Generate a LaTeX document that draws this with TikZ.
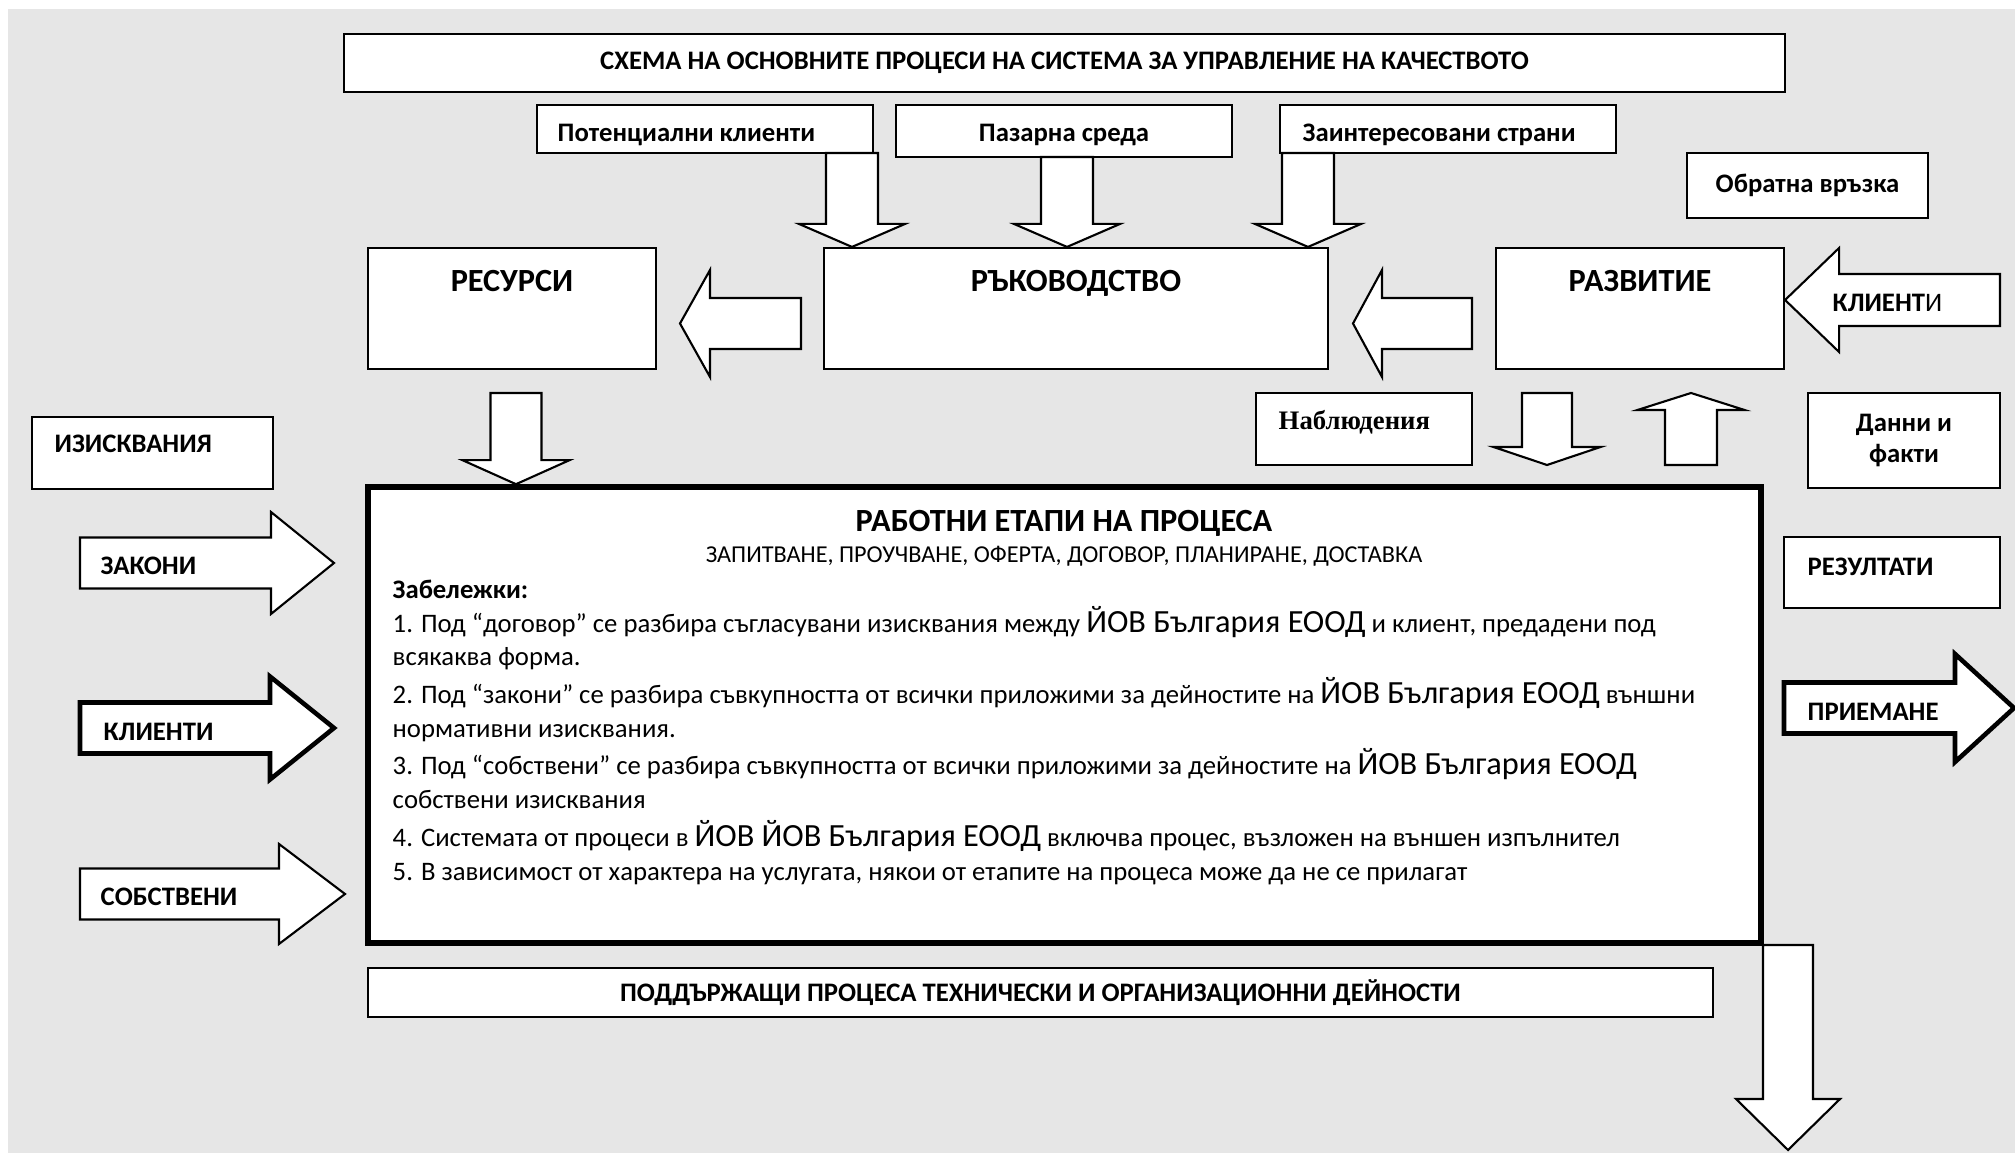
\documentclass[tikz,border=0pt]{standalone}
\usepackage{fontspec}
\setmainfont{Carlito}
\newfontfamily\nabfont{Liberation Serif}
\usetikzlibrary{positioning,calc}

\definecolor{bggray}{RGB}{230,230,230}
\newcommand{\firm}[1]{{\fontsize{9.2}{9}\selectfont #1}}

% block arrow: [style] {tail} {tip} {half shaft} {half head} {head length}
\newcommand{\blockarrow}[6][]{%
  \coordinate (hb) at ($(#3)!#6!(#2)$);
  \draw[barrow,#1] ($(#2)!#4!90:(#3)$) -- ($(hb)!#4!90:(#3)$) -- ($(hb)!#5!90:(#3)$) -- (#3)
    -- ($(hb)!#5!-90:(#3)$) -- ($(hb)!#4!-90:(#3)$) -- ($(#2)!#4!-90:(#3)$) -- cycle;}

\begin{document}
\begin{tikzpicture}[
 box/.style={draw,fill=white,line width=0.6pt,inner sep=0pt},
 lbl/.style={font=\bfseries\fontsize{7.6}{9}\selectfont,inner sep=0pt},
 big/.style={font=\bfseries\fontsize{9.2}{10}\selectfont,inner sep=0pt},
 note/.style={font=\fontsize{7.6}{9}\selectfont,inner sep=0pt,anchor=base west},
 barrow/.style={draw,fill=white,line width=0.6pt,line join=miter}]
\useasboundingbox (0,0) rectangle (20.15,-11.53);
\fill[white] (0,0) rectangle (20.15,-11.53);
\fill[bggray] (0.08,-0.09) rectangle (20.15,-11.53);
% top row
\node[box,lbl,minimum width=14.41cm,minimum height=0.58cm] (title) at (10.645,-0.63)
 {СХЕМА НА ОСНОВНИТЕ ПРОЦЕСИ НА СИСТЕМА ЗА УПРАВЛЕНИЕ НА КАЧЕСТВОТО};
\node[box,minimum width=3.36cm,minimum height=0.48cm] (pot) at (7.05,-1.29) {};
\node[box,minimum width=3.36cm,minimum height=0.52cm] (paz) at (10.64,-1.31) {};
\node[box,minimum width=3.36cm,minimum height=0.48cm] (zai) at (14.48,-1.29) {};
\node[lbl,anchor=west] (potT) at (5.57,-1.35) {Потенциални клиенти};
\node[lbl] (pazT) at (10.64,-1.35) {Пазарна среда};
\node[lbl,anchor=west] (zaiT) at (13.02,-1.35) {Заинтересовани страни};
\node[box,lbl,minimum width=2.41cm,minimum height=0.65cm] (obr) at (18.075,-1.855) {Обратна връзка};
% management row
\node[box,minimum width=2.88cm,minimum height=1.21cm] (res) at (5.12,-3.085) {};
\node[box,minimum width=5.04cm,minimum height=1.21cm] (ruk) at (10.76,-3.085) {};
\node[box,minimum width=2.88cm,minimum height=1.21cm] (raz) at (16.40,-3.085) {};
\node[big,below=0.23 of res.north] (resT) {РЕСУРСИ};
\node[big,below=0.23 of ruk.north] (rukT) {РЪКОВОДСТВО};
\node[big,below=0.23 of raz.north] (razT) {РАЗВИТИЕ};
% side boxes
\node[box,minimum width=2.16cm,minimum height=0.72cm] (nab) at (13.64,-4.29) {};
\node[inner sep=0pt,anchor=west,font=\nabfont\bfseries\fontsize{7.6}{9}\selectfont] (nabT) at (12.78,-4.22) {Наблюдения};
\node[box,lbl,align=center,minimum width=1.92cm,minimum height=0.95cm] (dan) at (19.04,-4.405)
 {Данни и\\факти};
\node[box,minimum width=2.41cm,minimum height=0.72cm] (izi) at (1.525,-4.53) {};
\node[lbl,anchor=west] (iziT) at (0.54,-4.44) {ИЗИСКВАНИЯ};
\node[box,minimum width=2.16cm,minimum height=0.71cm] (rez) at (18.92,-5.725) {};
\node[lbl,anchor=west] (rezT) at (18.07,-5.67) {РЕЗУЛТАТИ};
% process
\node[box,line width=1.6pt,minimum width=13.93cm,minimum height=4.56cm] (main) at (10.645,-7.15) {};
\node[box,lbl,minimum width=13.45cm,minimum height=0.49cm] (sup) at (10.405,-9.925)
 {ПОДДЪРЖАЩИ ПРОЦЕСА ТЕХНИЧЕСКИ И ОРГАНИЗАЦИОННИ ДЕЙНОСТИ};
\node[big] (mainT) at (10.64,-5.23) {РАБОТНИ ЕТАПИ НА ПРОЦЕСА};
\node[inner sep=0pt,font=\fontsize{6.9}{8}\selectfont] (mainS) at (10.64,-5.56)
 {ЗАПИТВАНЕ, ПРОУЧВАНЕ, ОФЕРТА, ДОГОВОР, ПЛАНИРАНЕ, ДОСТАВКА};
\node[lbl,anchor=west] (zab) at (3.92,-5.89) {Забележки:};
\node[note] (n1a) at (3.92,-6.33) {1. Под “договор” се разбира съгласувани изисквания между \firm{ЙОВ България ЕООД} и клиент, предадени под};
\node[note] (n1b) at (3.92,-6.66) {всякаква форма.};
\node[note] (n2a) at (3.92,-7.04) {2. Под “закони” се разбира съвкупността от всички приложими за дейностите на \firm{ЙОВ България ЕООД} външни};
\node[note] (n2b) at (3.92,-7.38) {нормативни изисквания.};
\node[note] (n3a) at (3.92,-7.75) {3. Под “собствени” се разбира съвкупността от всички приложими за дейностите на \firm{ЙОВ България ЕООД}};
\node[note] (n3b) at (3.92,-8.09) {собствени изисквания};
\node[note] (n4) at (3.92,-8.47) {4. Системата от процеси в \firm{ЙОВ ЙОВ България ЕООД} включва процес, възложен на външен изпълнител};
\node[note] (n5) at (3.92,-8.81) {5. В зависимост от характера на услугата, някои от етапите на процеса може да не се прилагат};
% arrow ends
\coordinate (p1) at (8.52,-1.53);
\coordinate (p2) at (10.67,-1.57);
\coordinate (p3) at (13.08,-1.53);
\coordinate (r1) at (8.01,-3.235);  \coordinate (r1t) at (6.80,-3.235);
\coordinate (r2) at (14.72,-3.235); \coordinate (r2t) at (13.53,-3.235);
\coordinate (k1) at (20.00,-3.00);
\coordinate (d1) at (5.16,-3.93);
\coordinate (d2) at (15.47,-3.93);  \coordinate (d2t) at (15.47,-4.65);
\coordinate (u1) at (16.91,-4.65);  \coordinate (u1t) at (16.91,-3.93);
\coordinate (z1) at (0.80,-5.63);   \coordinate (z1t) at (3.34,-5.63);
\coordinate (z2) at (0.80,-7.28);   \coordinate (z2t) at (3.34,-7.28);
\coordinate (z3) at (0.80,-8.94);   \coordinate (z3t) at (3.45,-8.94);
\coordinate (pr) at (17.84,-7.08);  \coordinate (prt) at (20.14,-7.08);
\coordinate (o1) at (17.88,-9.45);  \coordinate (o1t) at (17.88,-11.50);
% block arrows
\blockarrow{p1}{p1 |- ruk.north}{0.26cm}{0.53cm}{0.23cm}
\blockarrow{p2}{p2 |- ruk.north}{0.26cm}{0.53cm}{0.23cm}
\blockarrow{p3}{p3 |- ruk.north}{0.26cm}{0.53cm}{0.23cm}
\blockarrow{r1}{r1t}{0.255cm}{0.535cm}{0.30cm}
\blockarrow{r2}{r2t}{0.255cm}{0.535cm}{0.29cm}
\blockarrow{k1}{raz.east |- k1}{0.26cm}{0.52cm}{0.54cm}
\blockarrow{d1}{d1 |- main.north}{0.255cm}{0.535cm}{0.24cm}
\blockarrow{d2}{d2t}{0.25cm}{0.535cm}{0.18cm}
\blockarrow{u1}{u1t}{0.26cm}{0.535cm}{0.17cm}
\blockarrow{z1}{z1t}{0.255cm}{0.51cm}{0.63cm}
\blockarrow[line width=1.3pt]{z2}{z2t}{0.255cm}{0.515cm}{0.64cm}
\blockarrow{z3}{z3t}{0.255cm}{0.50cm}{0.66cm}
\blockarrow[line width=1.3pt]{pr}{prt}{0.255cm}{0.54cm}{0.59cm}
\blockarrow{o1}{o1t}{0.25cm}{0.52cm}{0.51cm}
% arrow labels
\node[lbl,anchor=west] (k1T) at (18.32,-3.03) {КЛИЕНТ\mdseries И};
\node[lbl,anchor=west] (z1T) at (1.00,-5.66) {ЗАКОНИ};
\node[lbl,anchor=west] (z2T) at (1.03,-7.32) {КЛИЕНТИ};
\node[lbl,anchor=west] (z3T) at (1.00,-8.97) {СОБСТВЕНИ};
\node[lbl,anchor=west] (prT) at (18.07,-7.12) {ПРИЕМАНЕ};
\end{tikzpicture}
\end{document}
